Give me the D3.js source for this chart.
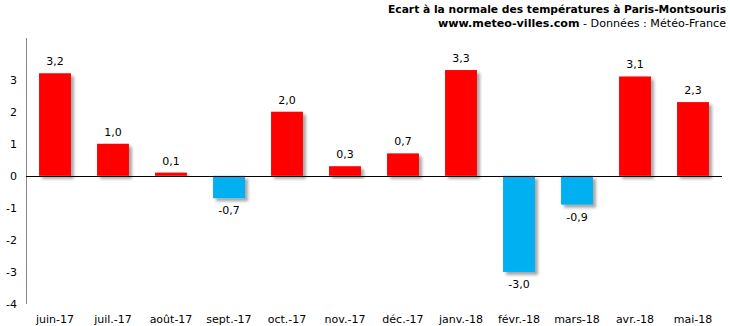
<!DOCTYPE html>
<html><head><meta charset="utf-8">
<script src="https://cdn.jsdelivr.net/npm/d3@7"></script>
<style>body{margin:0;background:#fff}svg{display:block}text{font-family:"DejaVu Sans",Verdana,sans-serif}</style>
</head><body><svg id="c" width="730" height="326"></svg>
<script>
const categories = ["juin-17","juil.-17","août-17","sept.-17","oct.-17","nov.-17","déc.-17","janv.-18","févr.-18","mars-18","avr.-18","mai-18"];
const values = [3.2,1.0,0.1,-0.7,2.0,0.3,0.7,3.3,-3.0,-0.9,3.1,2.3];
const yTicks = [-4,-3,-2,-1,0,1,2,3];
const title1 = "Ecart à la normale des températures à Paris-Montsouris";
const title2a = "www.meteo-villes.com";
const title2b = " - Données : Météo-France";

const svg = d3.select("#c");
const x = d3.scaleBand().domain(categories).range([26, 722]).paddingInner(0.45).paddingOuter(0.225);
const y = d3.scaleLinear().domain([-4, 4.3]).range([304, 38]);

const defs = svg.append("defs");
const f = defs.append("filter").attr("id","sh").attr("x","-20%").attr("y","-20%").attr("width","150%").attr("height","150%");
f.append("feDropShadow").attr("dx",3).attr("dy",3).attr("stdDeviation",1.5).attr("flood-color","#000").attr("flood-opacity",0.35);

// bars
svg.append("g").selectAll("rect").data(values).join("rect")
  .attr("x",(d,i)=>x(categories[i]))
  .attr("width",x.bandwidth())
  .attr("y",d=>y(Math.max(0,d)))
  .attr("height",d=>Math.abs(y(d)-y(0)))
  .attr("fill",d=>d>=0?"#FF0000":"#00B0F0")
  .attr("filter","url(#sh)");

// y axis line
svg.append("line").attr("x1",26.5).attr("x2",26.5).attr("y1",y(4.3)).attr("y2",y(-4)).attr("stroke","#888");
// zero line
svg.append("line").attr("x1",26).attr("x2",722).attr("y1",Math.round(y(0))+0.5).attr("y2",Math.round(y(0))+0.5).attr("stroke","#000");

// y tick labels
svg.append("g").selectAll("text").data(yTicks).join("text")
  .attr("x",17).attr("y",d=>y(d)).attr("dy","0.35em").attr("text-anchor","end")
  .attr("font-size",11).attr("fill","#000").text(d=>d);

// x labels
svg.append("g").selectAll("text").data(categories).join("text")
  .attr("x",d=>x(d)+x.bandwidth()/2).attr("y",323).attr("text-anchor","middle")
  .attr("font-size",11).attr("fill","#000").text(d=>d);

// value labels
svg.append("g").selectAll("text").data(values).join("text")
  .attr("x",(d,i)=>x(categories[i])+x.bandwidth()/2)
  .attr("y",d=>d>=0?y(d)-8:y(d)+16)
  .attr("text-anchor","middle").attr("font-size",11).attr("fill","#000")
  .text(d=>d.toFixed(1).replace(".",","));

// titles
svg.append("text").attr("x",726).attr("y",13).attr("text-anchor","end")
  .attr("font-size",11).attr("font-weight","bold").attr("fill","#000")
  .attr("textLength",338).attr("lengthAdjust","spacingAndGlyphs").text(title1);
const t2 = svg.append("text").attr("x",726).attr("y",27).attr("text-anchor","end").attr("font-size",11).attr("fill","#000")
  .attr("textLength",288).attr("lengthAdjust","spacingAndGlyphs");
t2.append("tspan").attr("font-weight","bold").text(title2a);
t2.append("tspan").text(title2b);
</script></body></html>
